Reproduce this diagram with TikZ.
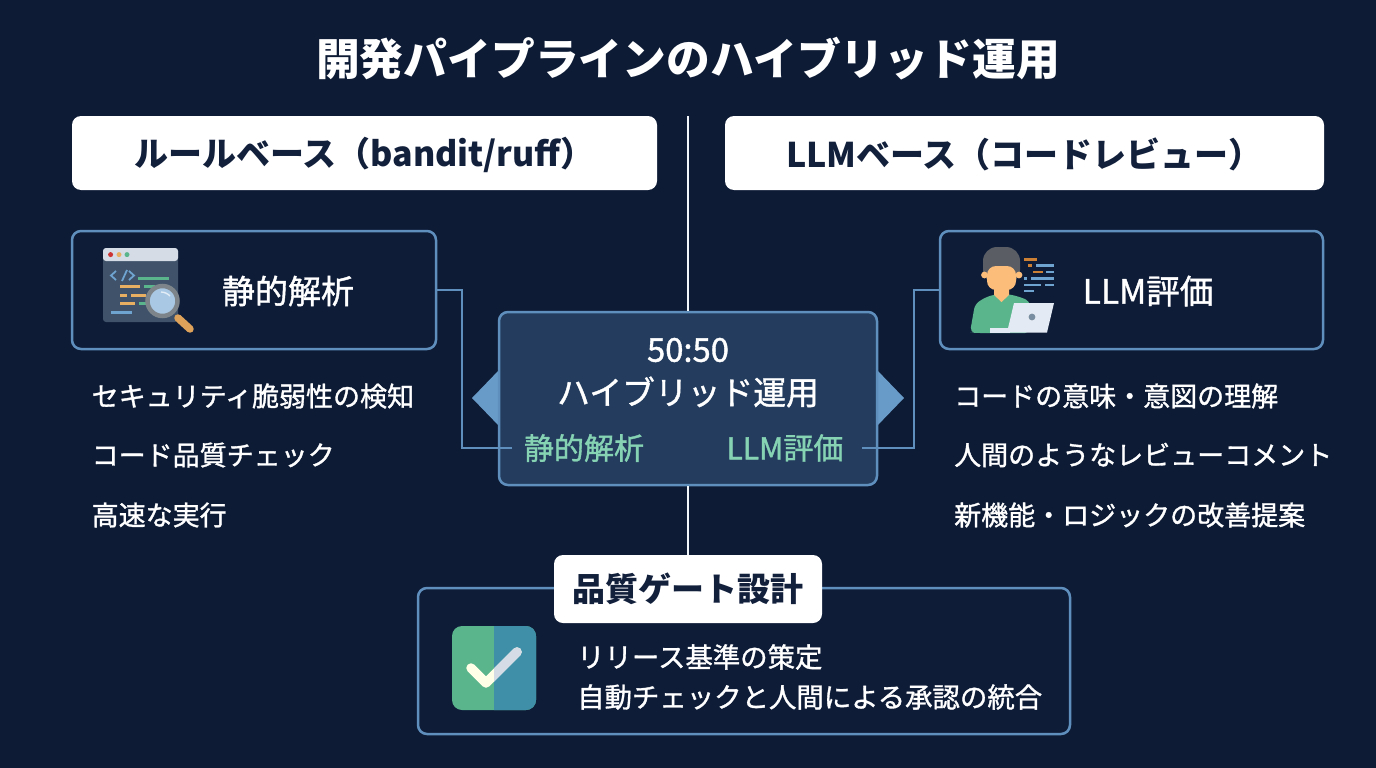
\documentclass[tikz,border=0pt]{standalone}
\usepackage{fontspec}
\setmainfont{Noto Sans CJK JP}
\newfontfamily\medfont[FakeBold=1.2]{Noto Sans CJK JP}
\usetikzlibrary{positioning}
\definecolor{bgnavy}{HTML}{0D1B35}
\definecolor{boxnavy}{HTML}{0E1C38}
\definecolor{midnavy}{HTML}{243D5E}
\definecolor{edgeblue}{HTML}{5F8FBD}
\definecolor{headnavy}{HTML}{12203C}
\definecolor{mint}{HTML}{86D3B4}
\definecolor{slate}{HTML}{3F5269}
\definecolor{barlight}{HTML}{D5DCE6}
\definecolor{lineorange}{HTML}{E8AE62}
\definecolor{linegreen}{HTML}{5BB58C}
\definecolor{lineblue}{HTML}{6FA3D0}
\definecolor{skin}{HTML}{FCBD7B}
\definecolor{hair}{HTML}{5A5E64}
\definecolor{paper}{HTML}{E3EAF3}
\definecolor{tealblue}{HTML}{3F8FA8}
\tikzset{
  head/.style={fill=white, rounded corners=9pt, text=headnavy, font=\fontsize{34}{38}\selectfont\bfseries},
  panel/.style={draw=edgeblue, line width=2.5pt, fill=boxnavy, rounded corners=9pt},
  wtext/.style={text=white, font=\fontsize{27}{32}\selectfont\medfont, anchor=west, inner sep=0pt},
  tag/.style={text=mint, font=\fontsize{30}{34}\selectfont\medfont, inner sep=12pt},
  link/.style={draw=edgeblue, line width=2.5pt},
}
\begin{document}
\begin{tikzpicture}[x=1pt, y=-1pt]
\useasboundingbox (0,0) rectangle (1376,768);
\fill[bgnavy] (0,0) rectangle (1376,768);

\node[text=white, font=\fontsize{43.8}{48}\selectfont\bfseries] (title) at (688,59) {開発パイプラインのハイブリッド運用};

\node[head, minimum width=585pt, minimum height=74pt, text depth=0pt] (rulehead) at (364.5,153) {\raisebox{1.5pt}{ルールベース（bandit/ruff）}};
\node[head, minimum width=599pt, minimum height=74pt, text depth=0pt] (llmhead) at (1024.5,153) {\raisebox{1.5pt}{LLMベース（コードレビュー）}};

\node[panel, minimum width=364pt, minimum height=118pt] (statbox) at (254,290) {};
\node[panel, minimum width=383pt, minimum height=118pt] (evalbox) at (1131.5,290) {};
\node[text=white, font=\fontsize{33}{38}\selectfont\medfont] (stattext) at (288,291) {静的解析};
\node[text=white, font=\fontsize{33.5}{38}\selectfont\medfont] (evaltext) at (1148,291) {LLM評価};

\foreach \i/\y/\t in {1/396/セキュリティ脆弱性の検知,2/455/コード品質チェック,3/515/高速な実行}
  \node[wtext] (left\i) at (91.5,\y) {\t};
\foreach \i/\y/\t in {1/396/コードの意味・意図の理解,2/455/人間のようなレビューコメント,3/515/新機能・ロジックの改善提案}
  \node[wtext] (right\i) at (954,\y) {\t};

% centre block
\coordinate (topend) at (688,116);
\coordinate (lnkl) at (462,400);
\coordinate (lnkr) at (914,400);
\fill[lineblue!60!edgeblue] (472,398) -- (500,369) -- (500,427) -- cycle;
\fill[lineblue!60!edgeblue] (904,398) -- (876,369) -- (876,427) -- cycle;
\node[draw=edgeblue, line width=2.5pt, fill=midnavy, rounded corners=9pt, minimum width=378pt, minimum height=173pt] (hybrid) at (688,398.5) {};
\node[text=white, font=\fontsize{32.8}{38}\selectfont\medfont] (hybtop) at (688,350) {50:50};
\node[text=white, font=\fontsize{32.8}{38}\selectfont\medfont] (hybtext) at (688,392) {ハイブリッド運用};
\node[tag] (statlbl) at (584,448) {静的解析};
\node[tag, inner sep=18pt] (evallbl) at (785,448) {LLM評価};
\draw[link] (statbox.east) -| (lnkl) |- (statlbl.west);
\draw[link] (evalbox.west) -| (lnkr) |- (evallbl.east);

% gate block
\node[panel, minimum width=652pt, minimum height=146pt] (gatebox) at (744,661) {};
\node[head, minimum width=268pt, minimum height=68pt, font=\fontsize{33}{38}\selectfont\bfseries] (gatehead) at (688,589) {品質ゲート設計};
\node[wtext, font=\fontsize{27.4}{32}\selectfont\medfont] (gate1) at (577,657) {リリース基準の策定};
\node[wtext, font=\fontsize{27.4}{32}\selectfont\medfont] (gate2) at (577,697) {自動チェックと人間による承認の統合};
\foreach \u/\v in {topend/hybrid,hybrid/gatehead} \draw[white!90!lineblue, line width=2.2pt] (\u) -- (\v);

% code window icon
\fill[slate, rounded corners=3pt] (103,248) rectangle (178,322);
\fill[barlight, rounded corners=3pt] (103,261) -- (103,248) -- (178,248) -- (178,261) -- cycle;
\foreach \x/\c in {110.6/red!60!gray,119/lineorange,127/linegreen} \fill[\c] (\x,254.6) circle (2.5);
\draw[lineblue, line width=1.8pt] (116,271) -- (111,275.5) -- (116,280) (122,281) -- (127,270) (129,271) -- (134,275.5) -- (129,280);
\foreach \a/\b/\y/\c in {138/169/278/linegreen,120/140/286.5/lineorange,144/155/286.5/linegreen,120/127/295/lineorange,131/146/295/lineorange,120/135/303/lineorange,139/150/303/linegreen,111/132/312/lineblue}
  \draw[\c, line width=3pt] (\a,\y) -- (\b,\y);
\draw[lineorange!75!brown, line width=7.5pt, line cap=round] (178,318) -- (190,329);
\draw[gray!85!lineblue, line width=4.5pt, fill=lineblue!60!white] (162.5,301) circle (15);
\draw[white!80!lineblue, line width=1.4pt] (161,292) to[bend left=20] (170,296);

% person icon
\foreach \a/\b/\y/\c in {1024/1037/259.5/orange!60!gray,1028/1032/265.5/orange!60!gray,1036/1054/265.5/lineblue,1033/1043/272/orange!60!gray,1046/1054/272/lineblue,1024/1027/278.5/lineblue,1031/1054/278.5/lineblue,1024/1041/285/lineblue,1045/1054/285/lineblue,1024/1034/291/lineblue}
  \draw[\c, line width=2.6pt] (\a,\y) -- (\b,\y);
\fill[linegreen, rounded corners=5pt] (970,332.5) -- (975,304) -- (986,297) -- (1001,293) -- (1017,296) -- (1030,301) -- (1030,333) -- (975,333) -- cycle;
\fill[hair, rounded corners=14pt] (983,284) -- (983,247) -- (1020,247) -- (1020,284) -- cycle;
\fill[skin] (984.5,275) circle (3.4) (1019,275) circle (3.4);
\fill[skin] (994,285) rectangle (1009,295) (994,295) -- (1001.5,302) -- (1009,295) -- cycle;
\fill[skin, rounded corners=9pt] (987,266) -- (1016,266) -- (1016,290) -- (987,290) -- cycle;
\fill[paper] (990,328) rectangle (1010,332.5);
\fill[paper] (1014,303) -- (1054,303) -- (1047,332.5) -- (1007,332.5) -- cycle;
\fill[lineblue!40!gray] (1032,317) circle (3.4);

% check icon
\fill[linegreen, rounded corners=10pt] (452,626) rectangle (536,710);
\begin{scope}
  \clip (494,620) rectangle (540,715);
  \fill[tealblue, rounded corners=10pt] (452,626) rectangle (536,710);
\end{scope}
\draw[white!90!yellow, line width=9.5pt, line cap=round, line join=round] (471,668) -- (486,683) -- (517,652);
\begin{scope}
  \clip (494,620) rectangle (540,715);
  \draw[barlight, line width=9.5pt, line cap=round, line join=round] (471,668) -- (486,683) -- (517,652);
\end{scope}
\end{tikzpicture}
\end{document}
